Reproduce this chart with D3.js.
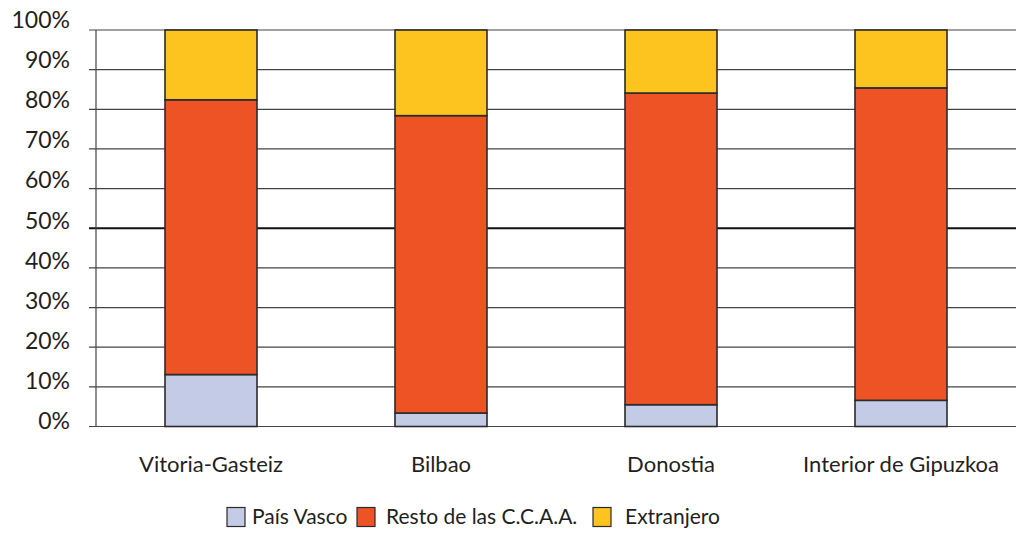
<!DOCTYPE html>
<html>
<head>
<meta charset="utf-8">
<script src="https://cdn.jsdelivr.net/npm/d3@7"></script>
<style>
  body { margin: 0; background: #fff; }
  svg { font-family: Lato, "Open Sans", sans-serif; }
</style>
</head>
<body>
<svg id="chart" width="1017" height="536"></svg>
<script>
const categories = ["Vitoria-Gasteiz", "Bilbao", "Donostia", "Interior de Gipuzkoa"];
const seriesNames = ["País Vasco", "Resto de las C.C.A.A.", "Extranjero"];
const paisVasco = [13.1, 3.4, 5.5, 6.6];
const restoCCAA = [69.3, 75.0, 78.6, 78.8];
const extranjero = [17.6, 21.6, 15.9, 14.6];
const yTicks = [0, 10, 20, 30, 40, 50, 60, 70, 80, 90, 100];

const colors = ["#c3cbe7", "#ee5326", "#fdc31f"];

const width = 1017;
const margin = { top: 30, left: 96, right: 1, bottom: 109 };
const height = 536;

const svg = d3.select("#chart");

const table = categories.map((c, i) => ({
    cat: c,
    [seriesNames[0]]: paisVasco[i],
    [seriesNames[1]]: restoCCAA[i],
    [seriesNames[2]]: extranjero[i]
}));

const stacked = d3.stack().keys(seriesNames)(table);

const x = d3.scaleBand()
    .domain(categories)
    .range([margin.left, width - margin.right])
    .paddingInner(0.6)
    .paddingOuter(0.3);

const y = d3.scaleLinear()
    .domain([0, 100])
    .range([height - margin.bottom - 0.5, margin.top]);

// gridlines
svg.append("g")
    .selectAll("line")
    .data(yTicks)
    .join("line")
    .attr("x1", margin.left - 7)
    .attr("x2", width - 1)
    .attr("y1", d => y(d))
    .attr("y2", d => y(d))
    .attr("stroke", d => d === 50 ? "#111" : "#444")
    .attr("stroke-width", d => d === 50 ? 2 : 1.2);

// y axis line
svg.append("line")
    .attr("x1", margin.left)
    .attr("x2", margin.left)
    .attr("y1", y(100))
    .attr("y2", y(0))
    .attr("stroke", "#444")
    .attr("stroke-width", 1.2);

// y labels (sit a little above their line)
svg.append("g")
    .selectAll("text")
    .data(yTicks)
    .join("text")
    .attr("x", 70)
    .attr("y", d => y(d) + 2.5 - d * 0.045)
    .attr("text-anchor", "end")
    .attr("font-size", 23)
    .attr("fill", "#231f20")
    .text(d => d + "%");

// bars
svg.append("g")
    .selectAll("g")
    .data(stacked)
    .join("g")
    .attr("fill", (d, i) => colors[i])
    .selectAll("rect")
    .data(d => d)
    .join("rect")
    .attr("x", d => x(d.data.cat))
    .attr("width", x.bandwidth())
    .attr("y", d => y(d[1]))
    .attr("height", d => y(d[0]) - y(d[1]))
    .attr("stroke", "#2b2b2b")
    .attr("stroke-width", 1.6);

// category labels
svg.append("g")
    .selectAll("text")
    .data(categories)
    .join("text")
    .attr("x", d => x(d) + x.bandwidth() / 2)
    .attr("y", 472)
    .attr("text-anchor", "middle")
    .attr("font-size", 22)
    .attr("fill", "#231f20")
    .text(d => d);

// legend
const legendX = [227, 357, 593];
const textX = [252, 386, 625];
const legend = svg.append("g");
seriesNames.forEach((s, i) => {
    legend.append("rect")
        .attr("x", legendX[i])
        .attr("y", 507.5)
        .attr("width", 18)
        .attr("height", 19)
        .attr("fill", colors[i])
        .attr("stroke", "#2b2b2b")
        .attr("stroke-width", 1.2);
    legend.append("text")
        .attr("x", textX[i])
        .attr("y", 524)
        .attr("font-size", 21)
        .attr("fill", "#231f20")
        .text(s);
});
</script>
</body>
</html>
